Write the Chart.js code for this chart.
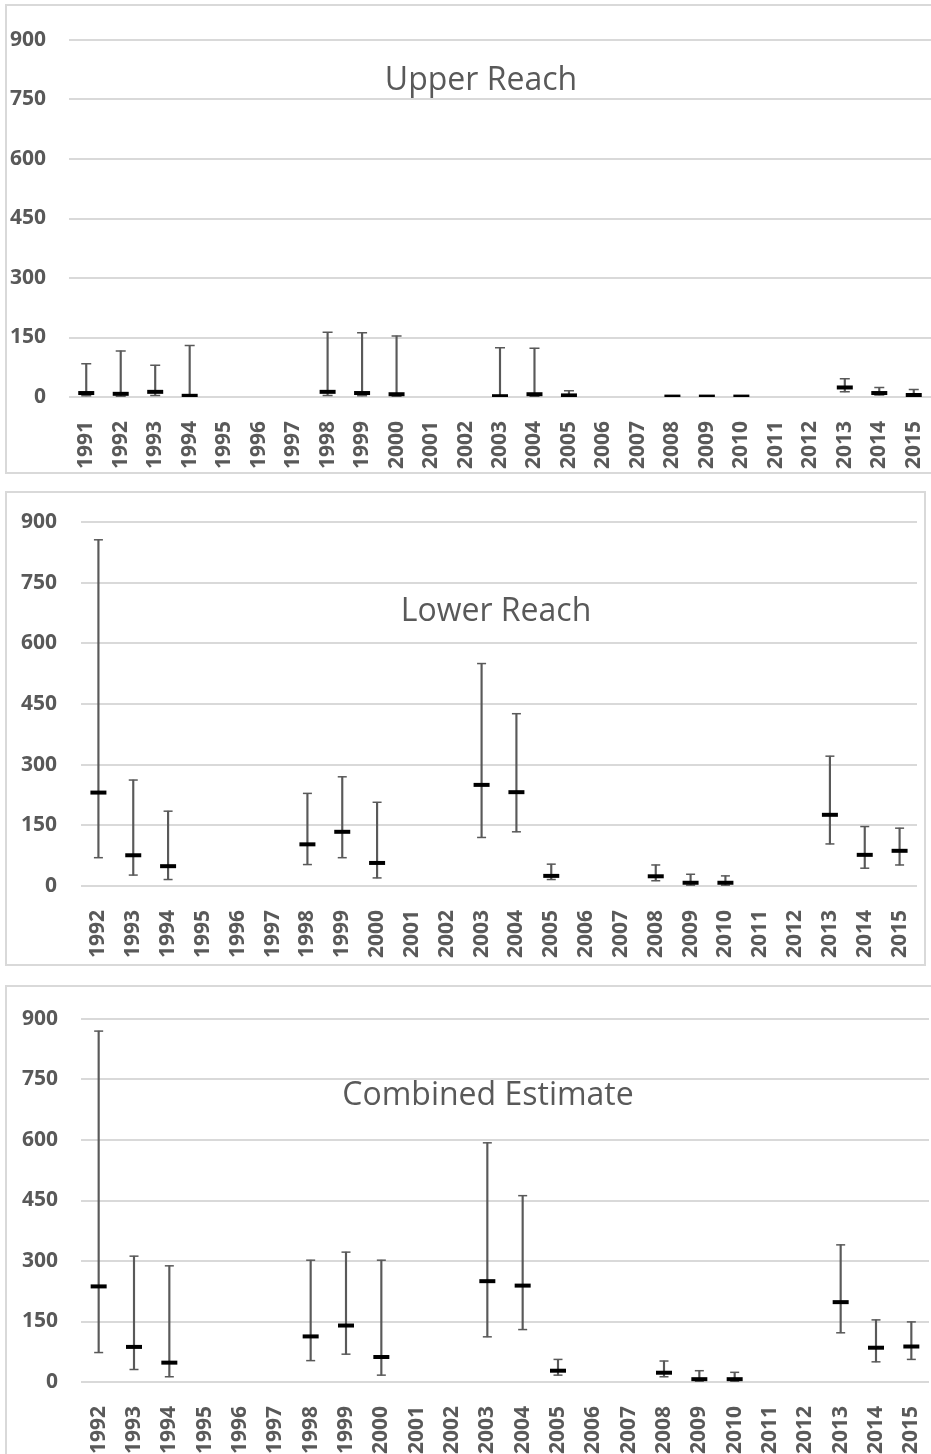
<!DOCTYPE html>
<html>
<head>
<meta charset="utf-8">
<script src="https://cdn.jsdelivr.net/npm/chart.js@4.4.1/dist/chart.umd.min.js"></script>
<style>
  body { margin: 0; width: 931px; height: 1454px; overflow: hidden; background: #fff; position: relative; }
  .panel { position: absolute; border: 2px solid #d9d9d9; box-sizing: border-box; }
  .plot { position: absolute; }
  .title { position: absolute; font-family: 'Open Sans', sans-serif; font-size: 32px; color: #595959;
           white-space: nowrap; transform: translateX(-50%); line-height: normal; }
</style>
</head>
<body>
<div class="panel" style="left:5px; top:4px; width:945px; height:470px;"></div>
<div class="panel" style="left:5px; top:491px; width:921px; height:475px;"></div>
<div class="panel" style="left:5px; top:985px; width:945px; height:480px;"></div>

<canvas id="upperChart" class="plot" width="925" height="468" style="left:6px; top:5px;"></canvas>
<canvas id="lowerChart" class="plot" width="911" height="473" style="left:6px; top:492px;"></canvas>
<canvas id="combinedChart" class="plot" width="923" height="468" style="left:6px; top:986px;"></canvas>

<div class="title" style="left:481px; top:56px;">Upper Reach</div>
<div class="title" style="left:496px; top:587px;">Lower Reach</div>
<div class="title" style="left:488px; top:1071px;">Combined Estimate</div>

<script>
// years sampled in each reach
const upperYears = ['1991', '1992', '1993', '1994', '1995', '1996', '1997', '1998', '1999', '2000', '2001', '2002', '2003',
    '2004', '2005', '2006', '2007', '2008', '2009', '2010', '2011', '2012', '2013', '2014', '2015'];
const years = ['1992', '1993', '1994', '1995', '1996', '1997', '1998', '1999', '2000', '2001', '2002', '2003',
    '2004', '2005', '2006', '2007', '2008', '2009', '2010', '2011', '2012', '2013', '2014', '2015'];

const yTicks = [0, 150, 300, 450, 600, 750, 900];

// Upper reach: estimate with lower / upper bounds
const upperMean = [10, 8, 13, 3, null, null, null, 13, 10, 7, null, null, 2, 7, 4, null, null, 1, 1, 1, null, null, 24, 10, 5];
const upperLow = [3, 2, 4, 0, null, null, null, 4, 3, 2, null, null, 0, 2, 1, null, null, 0, 0, 0, null, null, 13, 5, 2];
const upperHigh = [84, 116, 80, 130, null, null, null, 163, 162, 154, null, null, 124, 123, 16, null, null, 3, 3, 3, null, null, 46, 24, 19];

// Lower reach
const lowerMean = [231, 76, 49, null, null, null, 103, 134, 57, null, null, 250, 232, 25, null, null, 24, 8, 8, null, null, 176, 77, 87];
const lowerLow = [70, 27, 16, null, null, null, 53, 70, 20, null, null, 120, 134, 16, null, null, 13, 2, 2, null, null, 104, 44, 52];
const lowerHigh = [856, 262, 185, null, null, null, 229, 270, 207, null, null, 550, 426, 54, null, null, 52, 29, 25, null, null, 321, 147, 143];

// Both reaches combined
const combinedMean = [237, 87, 48, null, null, null, 113, 140, 62, null, null, 250, 239, 28, null, null, 23, 7, 7, null, null, 198, 85, 88];
const combinedLow = [73, 31, 13, null, null, null, 53, 69, 17, null, null, 112, 130, 17, null, null, 13, 2, 2, null, null, 122, 50, 56];
const combinedHigh = [870, 312, 288, null, null, null, 302, 322, 302, null, null, 593, 462, 56, null, null, 52, 28, 24, null, null, 340, 154, 149];

const gridColor = '#d9d9d9';
const textColor = '#595959';
const tickFont = { family: "'Open Sans', sans-serif", size: 21, weight: 'bold' };

function renderPanel(canvasId, labels, mean, low, high, box) {
    const ctx = document.getElementById(canvasId).getContext('2d');
    const canvasHeight = ctx.canvas.height;
    const whiskers = labels.map((_, i) => high[i] == null ? null : [low[i], high[i]]);

    return new Chart(ctx, {
        data: {
            labels: labels,
            datasets: [{
                type: 'line',
                data: mean,
                order: 0,
                showLine: false,
                pointStyle: 'line',
                pointRadius: 8,
                pointBorderWidth: 4,
                pointBorderColor: '#000000',
                pointBackgroundColor: '#000000',
            }, {
                type: 'line',
                data: high,
                order: 1,
                showLine: false,
                pointStyle: 'line',
                pointRadius: box.cap,
                pointBorderWidth: 1.5,
                pointBorderColor: textColor,
            }, {
                type: 'line',
                data: low,
                order: 1,
                showLine: false,
                pointStyle: 'line',
                pointRadius: box.cap,
                pointBorderWidth: 1.5,
                pointBorderColor: textColor,
            }, {
                type: 'bar',
                data: whiskers,
                order: 2,
                grouped: false,
                barThickness: 1.5,
                backgroundColor: textColor,
                borderWidth: 0,
            }],
        },
        options: {
            responsive: false,
            animation: false,
            layout: {
                // markers would otherwise reserve extra room on the right
                autoPadding: false,
                padding: { top: box.top, right: 0, bottom: 0, left: 0 }
            },
            scales: {
                x: {
                    offset: true,
                    grid: { display: false },
                    border: { display: false },
                    ticks: {
                        autoSkip: false,
                        minRotation: 90,
                        maxRotation: 90,
                        padding: box.labelGap,
                        color: textColor,
                        font: tickFont,
                    },
                    afterFit: function(scale) {
                        scale.height = canvasHeight - box.bottom;
                        scale.paddingLeft = 0;
                        scale.paddingRight = 0;
                    }
                },
                y: {
                    min: 0,
                    max: 900,
                    afterBuildTicks: function(scale) {
                        scale.ticks = yTicks.map(v => ({ value: v }));
                    },
                    grid: { color: gridColor, lineWidth: 2, drawTicks: false },
                    border: { display: false },
                    ticks: {
                        padding: box.labelPad,
                        color: textColor,
                        font: tickFont,
                    },
                    afterFit: function(scale) {
                        scale.width = box.left;
                        scale.paddingTop = 0;
                        scale.paddingBottom = 0;
                    }
                }
            },
            plugins: {
                legend: { display: false },
                tooltip: { enabled: false }
            }
        }
    });
}

renderPanel('upperChart', upperYears, upperMean, upperLow, upperHigh,
    { left: 63, top: 35, bottom: 392, labelGap: 16, labelPad: 23, cap: 5 });
renderPanel('lowerChart', years, lowerMean, lowerLow, lowerHigh,
    { left: 75, top: 30, bottom: 394, labelGap: 16, labelPad: 24, cap: 4.5 });
renderPanel('combinedChart', years, combinedMean, combinedLow, combinedHigh,
    { left: 75, top: 33, bottom: 396, labelGap: 16, labelPad: 23, cap: 4.5 });
</script>
</body>
</html>
